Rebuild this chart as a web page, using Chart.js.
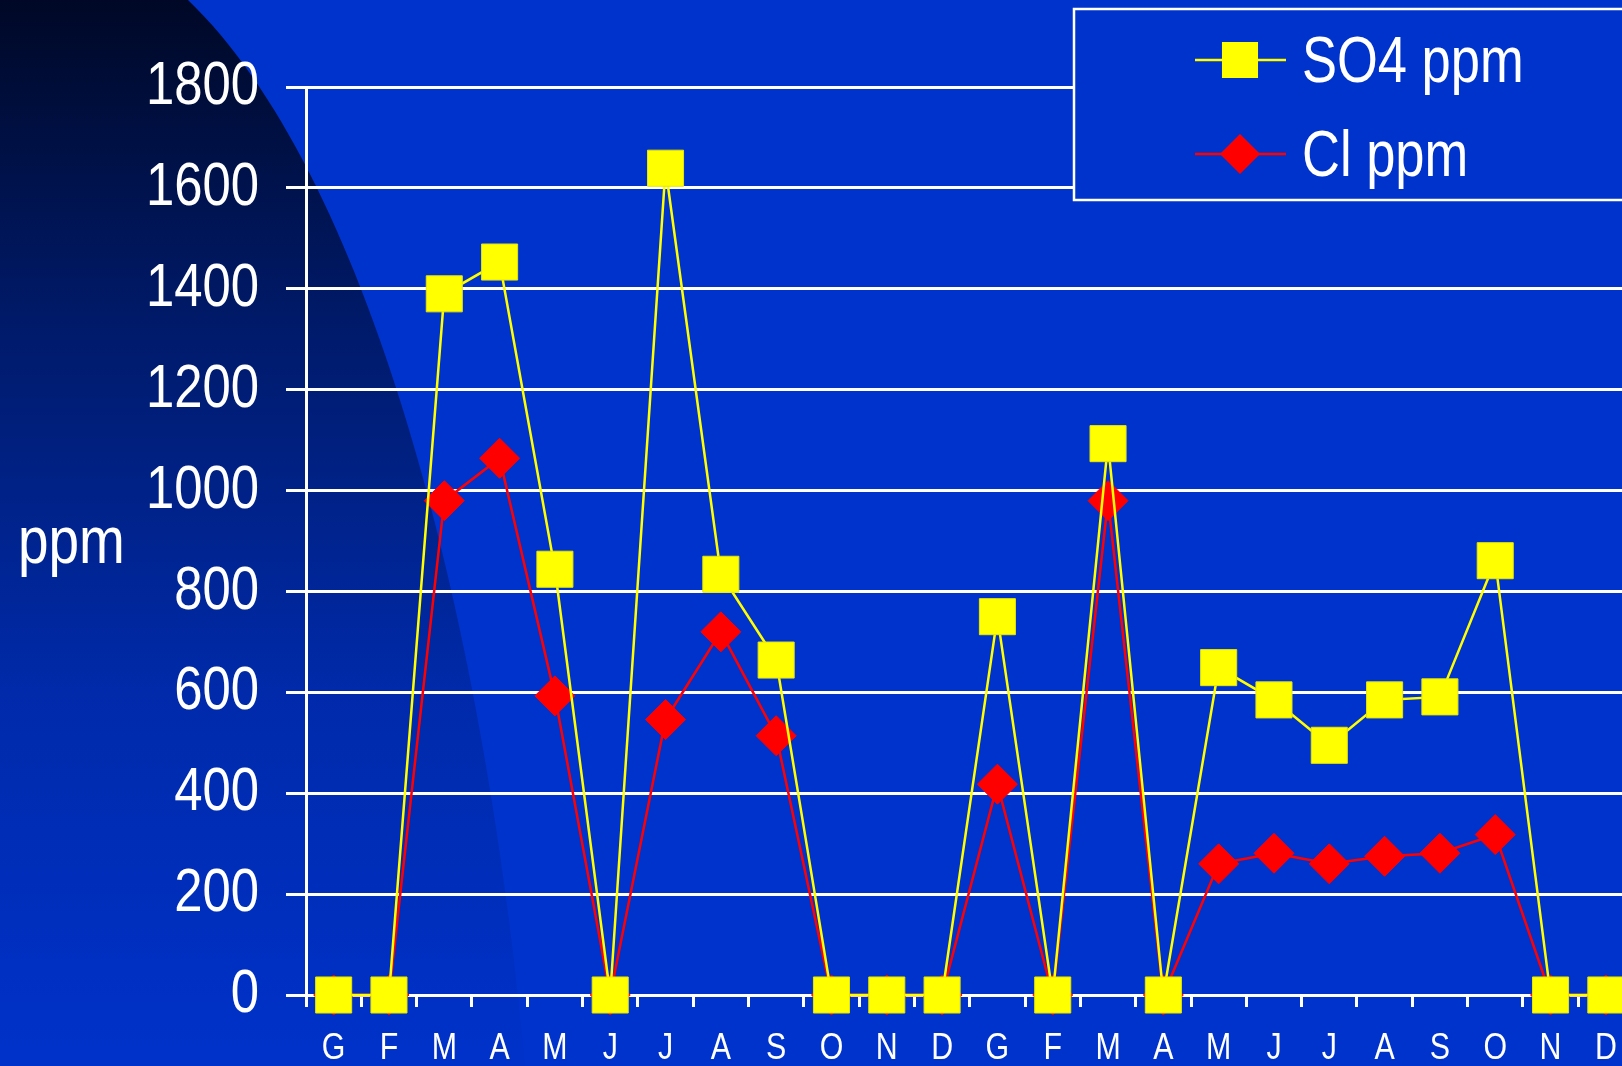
<!DOCTYPE html>
<html>
<head>
<meta charset="utf-8">
<script src="https://cdn.jsdelivr.net/npm/chart.js@4.4.1/dist/chart.umd.min.js"></script>
<style>
    html, body { margin: 0; padding: 0; overflow: hidden; background: #0033cc; }
    canvas { display: block; }
</style>
</head>
<body>
<canvas id="ppmChart" width="1660" height="1066"></canvas>
<script>
const months = ['G', 'F', 'M', 'A', 'M', 'J', 'J', 'A', 'S', 'O', 'N', 'D',
                'G', 'F', 'M', 'A', 'M', 'J', 'J', 'A', 'S', 'O', 'N', 'D'];
const so4 = [0, 0, 1390, 1453, 844, 0, 1639, 834, 664, 0, 0, 0,
             750, 0, 1093, 0, 649, 585, 495, 585, 591, 861, 0, 0];
const cl = [0, 0, 980, 1064, 593, 0, 546, 720, 514, 0, 0, 0,
            418, 0, 980, 0, 260, 281, 260, 275, 281, 318, 0, 0];
const yTitle = 'ppm';

const BLUE = '#0033cc';
const FONT = '"Liberation Sans", Arial, sans-serif';
// no narrow face installed, so squeeze the text like Arial Narrow
const NARROW = 0.82;

const narrowTextPlugin = {
    id: 'narrowText',
    beforeInit: function(chart) {
        const ctx = chart.ctx;
        const fill = ctx.fillText.bind(ctx);
        ctx.fillText = function(text, x, y, maxWidth) {
            let w = ctx.measureText(text).width * NARROW;
            if (maxWidth !== undefined) w = Math.min(w, maxWidth);
            fill(text, x, y, w);
        };
    }
};

const backgroundPlugin = {
    id: 'slideBackground',
    beforeDraw: function(chart) {
        const ctx = chart.ctx;
        ctx.save();
        ctx.fillStyle = BLUE;
        ctx.fillRect(0, 0, chart.width, chart.height);
        const grad = ctx.createLinearGradient(0, 0, 0, chart.height);
        grad.addColorStop(0, 'rgb(0, 8, 38)');
        grad.addColorStop(0.3, 'rgb(0, 26, 105)');
        grad.addColorStop(0.65, 'rgb(0, 42, 170)');
        grad.addColorStop(1, 'rgb(0, 50, 202)');
        ctx.beginPath();
        ctx.moveTo(0, 0);
        ctx.lineTo(188, 0);
        ctx.bezierCurveTo(365, 170, 482, 600, 525, chart.height);
        ctx.lineTo(0, chart.height);
        ctx.closePath();
        ctx.fillStyle = grad;
        ctx.fill();
        ctx.restore();
    }
};

function drawMarker(ctx, style, x, y, r, color) {
    ctx.fillStyle = color;
    ctx.beginPath();
    if (style === 'rect') {
        const s = Math.SQRT1_2 * r;
        ctx.rect(x - s, y - s, 2 * s, 2 * s);
    } else {
        ctx.moveTo(x - r, y);
        ctx.lineTo(x, y - r);
        ctx.lineTo(x + r, y);
        ctx.lineTo(x, y + r);
        ctx.closePath();
    }
    ctx.fill();
}

const boxLegendPlugin = {
    id: 'boxLegend',
    afterDraw: function(chart) {
        const ctx = chart.ctx;
        ctx.save();
        ctx.fillStyle = BLUE;
        ctx.fillRect(1074, 9, 700, 191);
        ctx.strokeStyle = '#ffffff';
        ctx.lineWidth = 2.5;
        ctx.strokeRect(1074, 9, 700, 191);
        chart.data.datasets.forEach(function(ds, i) {
            const y = 60 + i * 94;
            ctx.strokeStyle = ds.borderColor;
            ctx.lineWidth = 2.5;
            ctx.beginPath();
            ctx.moveTo(1195, y);
            ctx.lineTo(1286, y);
            ctx.stroke();
            drawMarker(ctx, ds.pointStyle, 1240, y, ds.pointRadius, ds.pointBackgroundColor);
            ctx.fillStyle = '#ffffff';
            ctx.font = '64px ' + FONT;
            ctx.textAlign = 'left';
            ctx.textBaseline = 'alphabetic';
            ctx.fillText(ds.label, 1302, y + 22);
        });
        ctx.restore();
    }
};

const yTitlePlugin = {
    id: 'flatYTitle',
    afterDraw: function(chart) {
        const ctx = chart.ctx;
        ctx.save();
        ctx.fillStyle = '#ffffff';
        ctx.font = '67px ' + FONT;
        ctx.textAlign = 'left';
        ctx.textBaseline = 'alphabetic';
        ctx.fillText(yTitle, 18, 563);
        ctx.restore();
    }
};

new Chart(document.getElementById('ppmChart'), {
    type: 'line',
    data: {
        labels: months,
        datasets: [{
            label: 'SO4 ppm',
            data: so4,
            borderColor: '#ffff00',
            borderWidth: 2.5,
            pointStyle: 'rect',
            pointRadius: 25.5,
            pointBackgroundColor: '#ffff00',
            pointBorderColor: '#e6e600',
            pointBorderWidth: 1,
            tension: 0,
            clip: false
        },
        {
            label: 'Cl ppm',
            data: cl,
            borderColor: '#ff0000',
            borderWidth: 2.5,
            pointStyle: 'rectRot',
            pointRadius: 20,
            pointBackgroundColor: '#ff0000',
            pointBorderColor: '#ff0000',
            pointBorderWidth: 1,
            tension: 0,
            clip: false
        }]
    },
    options: {
        responsive: false,
        animation: false,
        devicePixelRatio: 1,
        layout: {
            padding: { top: 87, left: 0, right: 24, bottom: 0 }
        },
        plugins: {
            legend: { display: false },
            title: { display: false },
            tooltip: { enabled: false }
        },
        scales: {
            x: {
                offset: true,
                afterFit: function(scale) { scale.height = 71; },
                grid: {
                    offset: true,
                    drawOnChartArea: false,
                    color: '#ffffff',
                    lineWidth: 3,
                    tickLength: 12
                },
                border: { display: true, color: '#ffffff', width: 3 },
                ticks: {
                    color: '#ffffff',
                    font: { family: FONT, size: 37 },
                    padding: 20,
                    maxRotation: 0,
                    autoSkip: false
                }
            },
            y: {
                min: 0,
                max: 1800,
                afterFit: function(scale) { scale.width = 306; },
                grid: {
                    color: '#ffffff',
                    lineWidth: 3,
                    tickLength: 20
                },
                border: { display: true, color: '#ffffff', width: 3 },
                ticks: {
                    stepSize: 200,
                    color: '#ffffff',
                    font: { family: FONT, size: 62 },
                    padding: 27,
                    callback: function(value) { return String(value); }
                }
            }
        }
    },
    plugins: [narrowTextPlugin, backgroundPlugin, boxLegendPlugin, yTitlePlugin]
});
</script>
</body>
</html>
